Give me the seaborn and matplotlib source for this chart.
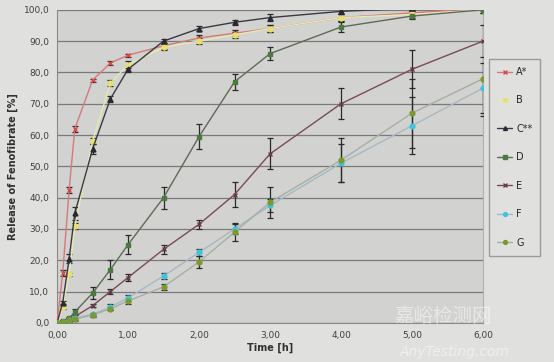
import matplotlib
matplotlib.use('Agg')
import matplotlib.pyplot as plt
import matplotlib.ticker as mticker
import numpy as np
import pandas as pd
import seaborn as sns

# sampling times [h]
time_h = [0, 0.08, 0.17, 0.25, 0.5, 0.75, 1.0, 1.5, 2.0, 2.5, 3.0, 4.0, 5.0, 6.0]

# release of fenofibrate [%] per formulation
rel_a = [0, 16, 42.5, 62, 77.5, 83, 85.5, 88.5, 91, 92.5, 94, 97.5, 99, 100.5]
rel_b = [0, 5, 15.5, 31, 58, 76.5, 82.5, 88, 90, 92, 94, 97.5, 98.5, 100]
rel_c = [0, 6.5, 20.5, 35, 55.5, 71.5, 81, 90, 94, 96, 97.5, 99.5, 100.5, 101]
rel_d = [0, 0.5, 1.5, 3.5, 9.5, 17, 25, 40, 59.5, 77, 86, 94.5, 98, 100]
rel_e = [0, 0.5, 1, 2, 5.5, 10, 14.5, 23.5, 31.5, 41, 54, 70, 81, 90]
rel_f = [0, 0.3, 1, 1.5, 2.8, 5, 8, 15, 22.5, 30, 37.5, 51, 63, 75]
rel_g = [0, 0.3, 0.8, 1.2, 2.5, 4.5, 7, 11.5, 19.5, 29, 38.5, 52, 67, 78]

# standard deviations
sd_a = [0, 1, 1, 1, 0.5, 0.5, 0.5, 1, 1, 1, 1, 1, 1, 1]
sd_b = [0, 0.5, 0.5, 1, 1, 1, 1, 1, 1, 1, 1, 1, 1, 1]
sd_c = [0, 0.5, 1.5, 2, 1.5, 1, 1, 0.8, 0.8, 0.8, 1, 1, 1, 1]
sd_d = [0, 0.3, 0.5, 1, 2, 3, 3, 3.5, 4, 2.5, 2, 1.5, 1, 1]
sd_e = [0, 0.3, 0.5, 0.5, 0.5, 0.8, 1, 1.5, 1.5, 4, 5, 5, 6, 5]
sd_f = [0, 0.2, 0.5, 0.5, 0.5, 1, 1, 1, 1, 1.5, 2, 6, 9, 8]
sd_g = [0, 0.2, 0.5, 0.5, 0.5, 0.5, 1, 1, 2, 3, 5, 7, 11, 12]

labels = ['A*', 'B', 'C**', 'D', 'E', 'F', 'G']
values = [rel_a, rel_b, rel_c, rel_d, rel_e, rel_f, rel_g]
sds = [sd_a, sd_b, sd_c, sd_d, sd_e, sd_f, sd_g]
line_colors = ['#d47a78', '#e8e8b0', '#3a3842', '#5e6a58', '#7a4a5c', '#a6b8c4', '#a4b0a4']
marker_colors = ['#d84a48', '#e6e070', '#2a2832', '#4a7a40', '#6a3a4a', '#40c4dc', '#7a9a30']
markers = ['x', 'o', '^', 's', 'x', 'o', 'o']

df = pd.concat([pd.DataFrame({'time': time_h, 'release': v, 'sd': s, 'series': lab})
                for lab, v, s in zip(labels, values, sds)], ignore_index=True)

sns.set_style('white')
plt.rcParams['font.family'] = ['DejaVu Sans', 'Noto Sans CJK SC']

fig = plt.figure(figsize=(5.54, 3.62), dpi=100, facecolor='#e0e0de')
ax = fig.add_axes([0.103, 0.108, 0.769, 0.865])
ax.set_facecolor('#d2d2d0')

for lab, lc, mc, mk in zip(labels, line_colors, marker_colors, markers):
    sub = df[df['series'] == lab]
    ax.errorbar(sub['time'], sub['release'], yerr=sub['sd'], fmt='none',
                ecolor='#2a2a2a', elinewidth=0.9, capsize=2.5, capthick=0.9, zorder=3)
    sns.lineplot(data=sub, x='time', y='release', ax=ax, color=lc, linewidth=1.0,
                 marker=mk, markersize=3.5, markerfacecolor=mc, markeredgecolor=mc,
                 markeredgewidth=1, label=lab, zorder=4)

ax.set_xlim(0, 6)
ax.set_ylim(0, 100)
ax.xaxis.set_major_locator(mticker.MultipleLocator(1))
ax.yaxis.set_major_locator(mticker.MultipleLocator(10))
ax.xaxis.set_major_formatter(mticker.FuncFormatter(lambda v, p: f'{v:.2f}'.replace('.', ',')))
ax.yaxis.set_major_formatter(mticker.FuncFormatter(lambda v, p: f'{v:.1f}'.replace('.', ',')))
ax.grid(axis='y', color='#7a7a7a', linewidth=0.9)
ax.set_axisbelow(True)
ax.spines['top'].set_visible(False)
ax.spines['right'].set_color('#b0b0b0')
for side in ['left', 'bottom']:
    ax.spines[side].set_color('#8a8a8a')
ax.tick_params(labelsize=6.5, colors='#404040', length=2)
ax.set_xlabel('Time [h]', fontsize=7, fontweight='bold', color='#303030', labelpad=2)
ax.set_ylabel('Release of Fenofibrate [%]', fontsize=7, fontweight='bold', color='#303030', labelpad=4)

handles, labs = ax.get_legend_handles_labels()
ax.legend_.remove()
fig.legend(handles, labs, loc='upper left', bbox_to_anchor=(0.874, 0.85), fontsize=7,
           frameon=True, facecolor='#e0e0de', edgecolor='#8a8a8a', fancybox=False,
           labelspacing=1.9, handlelength=1.6, handletextpad=0.4, borderpad=0.8,
           markerscale=0.8)

# faint watermark
fig.text(0.80, 0.125, '嘉峪检测网', fontsize=14, color='white', alpha=0.5,
         ha='center', va='center', family=['Noto Sans CJK SC'])
fig.text(0.82, 0.028, 'AnyTesting.com', fontsize=10, color='white', alpha=0.5,
         ha='center', va='center', style='italic')

fig.savefig('out.png', dpi=100, facecolor=fig.get_facecolor())
